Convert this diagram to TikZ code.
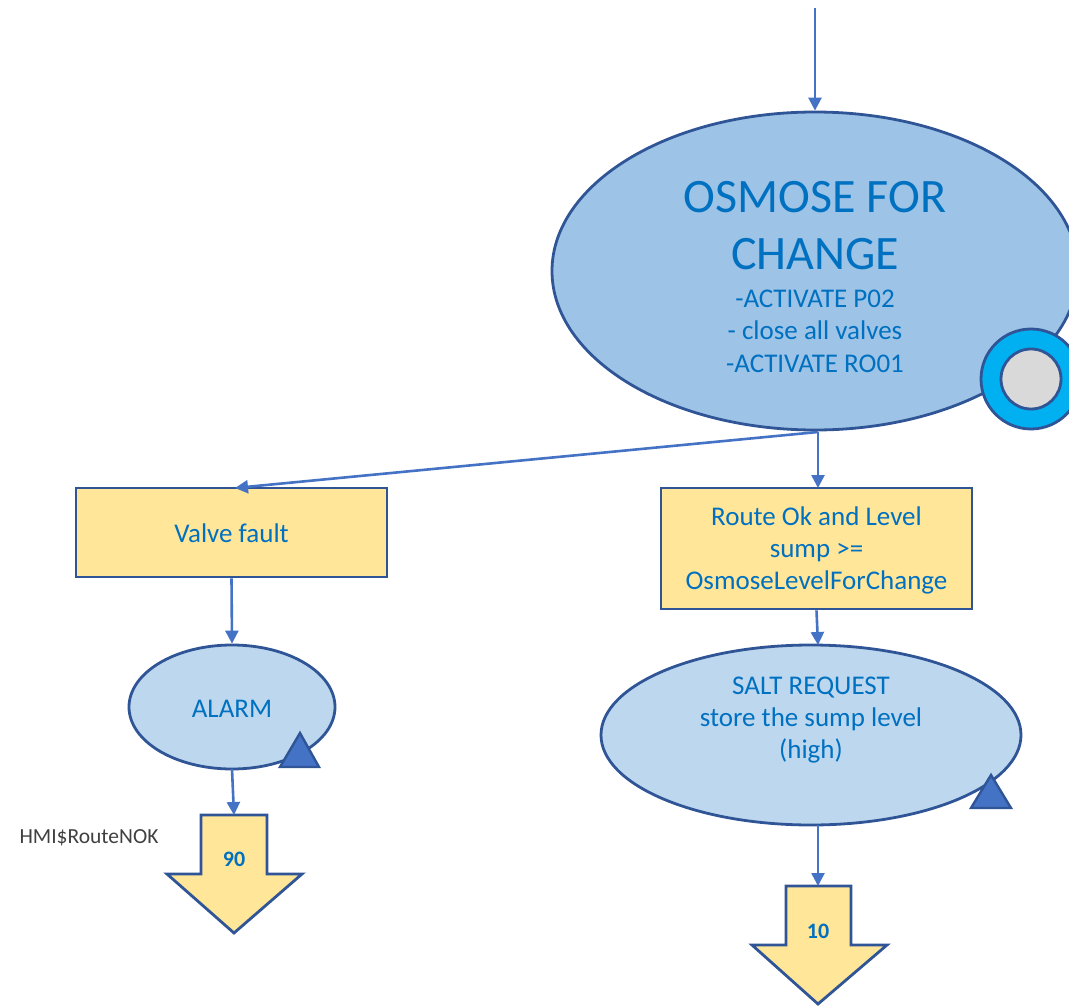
\documentclass[tikz,border=0pt]{standalone}
\usepackage{fontspec}
\setmainfont{Carlito}
\usetikzlibrary{shapes.geometric,arrows.meta}
\definecolor{edge}{HTML}{2F5597}
\definecolor{lineblue}{HTML}{4472C4}
\definecolor{txtblue}{HTML}{0070C0}
\definecolor{ellA}{HTML}{9DC3E6}
\definecolor{ellB}{HTML}{BDD7EE}
\definecolor{boxY}{HTML}{FFE699}
\definecolor{ringC}{HTML}{00B0F0}
\definecolor{grayC}{HTML}{D9D9D9}
\tikzset{
  arr/.style={draw=lineblue, line width=2.6pt, -{Triangle[length=13pt,width=13pt]}},
  bigell/.style={ellipse, draw=edge, line width=2.8pt, fill=ellA, inner sep=0pt},
  smell/.style={ellipse, draw=edge, line width=2.8pt, fill=ellB, inner sep=0pt},
  ybox/.style={rectangle, draw=edge, line width=2.8pt, fill=boxY, inner sep=0pt},
  txt/.style={text=txtblue, font=\fontsize{27}{32}\selectfont, align=center},
  tri/.style={draw=edge, line width=2.4pt, fill=lineblue, line join=miter},
  darrow/.style={draw=edge, line width=2.8pt, fill=boxY, line join=miter},
}
\begin{document}
\begin{tikzpicture}[x=1pt,y=-1pt]
\useasboundingbox (0,0) rectangle (1069,1006);
% top entry
\coordinate (start) at (815,8);
% big ellipse
\node[bigell, minimum width=526pt, minimum height=318pt] (big) at (815,271) {};
\node[txt, font=\fontsize{48}{57}\selectfont] (bigt) at (815,226) {OSMOSE FOR\\CHANGE};
\node[txt, font=\fontsize{27}{32.5}\selectfont] (bigs) at (815,331) {-ACTIVATE P02\\- close all valves\\-ACTIVATE RO01};
% ring
\node[circle, draw=edge, line width=2.8pt, fill=ringC, minimum size=100pt, inner sep=0pt] (ring) at (1031,379) {};
\node[circle, draw=edge, line width=2.8pt, fill=grayC, minimum size=60pt, inner sep=0pt] (ringin) at (1031,379) {};
\draw[arr] (start) -- (big.north);
% boxes
\node[ybox, minimum width=311pt, minimum height=89pt] (valve) at (231.5,532.5) {};
\node[txt] (valvet) at (231.5,533) {Valve fault};
\node[ybox, minimum width=311pt, minimum height=121pt] (route) at (816.5,548.5) {};
\node[txt] (routet) at (816.5,550) {Route Ok and Level\\sump >=\\OsmoseLevelForChange};
\coordinate (split) at (818,432);
\draw[arr] (split) -- (235,488);
\draw[arr] (split) -- (818,488);
% alarm
\node[smell, minimum width=206pt, minimum height=124pt] (alarm) at (232,707) {};
\node[txt] (alarmt) at (232,709) {ALARM};
\draw[arr] (valve.south) -- (alarm.north);
\draw[tri] (300,733) -- (319,767) -- (280,767) -- cycle;
% salt
\node[smell, minimum width=420pt, minimum height=180pt] (salt) at (811,735) {};
\node[txt] (saltt) at (811,720) {SALT REQUEST\\store the sump level\\(high)};
\draw[arr] (route.south) -- (818,645);
\draw[tri] (991,775) -- (1011,808) -- (971,808) -- cycle;
% down arrow 90
\draw[darrow] (201,815) -- (267,815) -- (267,874) -- (302,874) -- (234,933) -- (167,874) -- (201,874) -- cycle;
\coordinate (d90) at (234,815);
\node[text=txtblue, font=\fontsize{22}{26}\selectfont\bfseries] (n90) at (234,859) {90};
\draw[arr] (232,769) -- (d90);
\node[text=black!75, font=\fontsize{21.5}{26}\selectfont, anchor=west] (hmi) at (16,838) {HMI\$RouteNOK};
% down arrow 10
\draw[darrow] (786,886) -- (851,886) -- (851,945) -- (887,945) -- (818,1004) -- (752,945) -- (786,945) -- cycle;
\coordinate (d10) at (818,886);
\node[text=txtblue, font=\fontsize{22}{26}\selectfont\bfseries] (n10) at (818,931) {10};
\draw[arr] (818,825) -- (d10);
\end{tikzpicture}
\end{document}
